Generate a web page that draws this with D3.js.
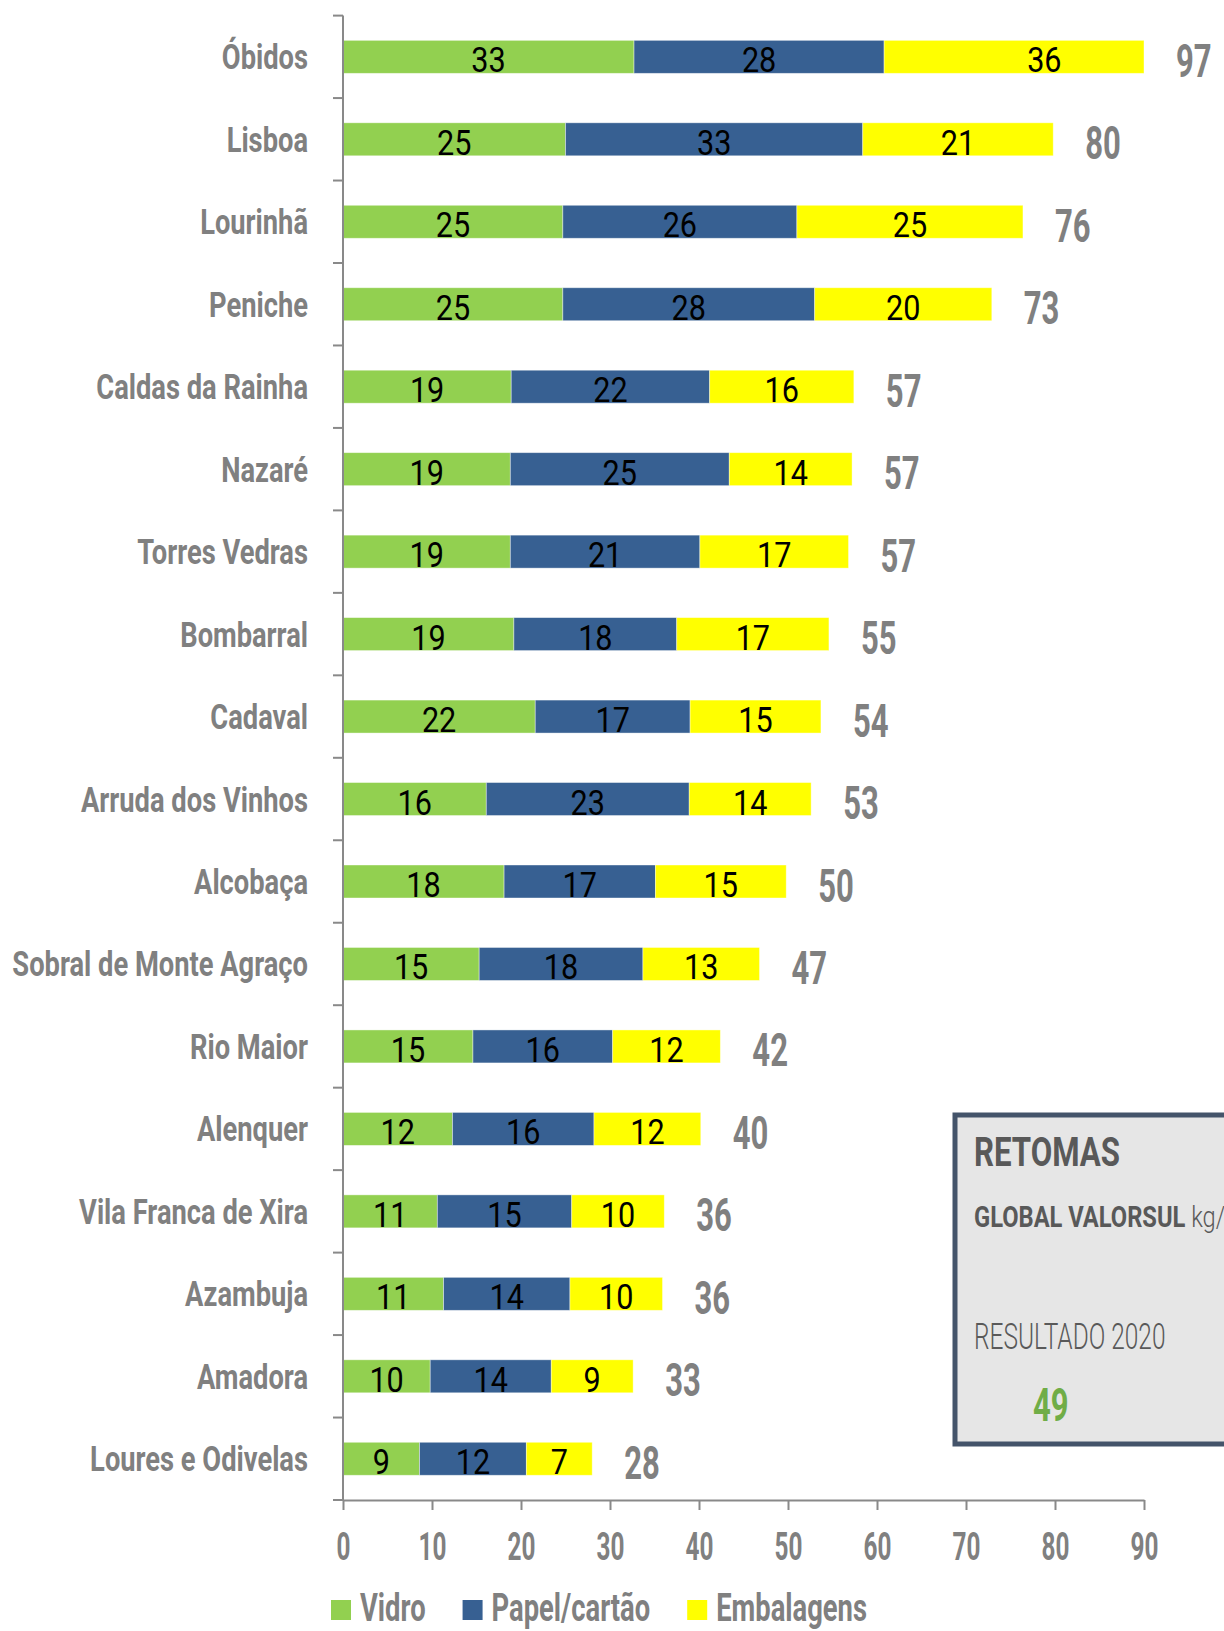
<!DOCTYPE html>
<html>
<head>
<meta charset="utf-8">
<script src="https://cdn.jsdelivr.net/npm/d3@7"></script>
<style>
  body { margin: 0; background: #fff; }
  svg { display: block; font-family: Roboto, "Noto Sans", sans-serif; }
</style>
</head>
<body>
<div id="wrapper"></div>
<script>
// data (kg/hab)
const categories = ["Óbidos", "Lisboa", "Lourinhã", "Peniche", "Caldas da Rainha", "Nazaré",
  "Torres Vedras", "Bombarral", "Cadaval", "Arruda dos Vinhos", "Alcobaça",
  "Sobral de Monte Agraço", "Rio Maior", "Alenquer", "Vila Franca de Xira",
  "Azambuja", "Amadora", "Loures e Odivelas"]
const vidro      = [32.7, 25.0, 24.7, 24.7, 18.9, 18.8, 18.8, 19.2, 21.6, 16.1, 18.1, 15.3, 14.6, 12.3, 10.6, 11.3, 9.8, 8.6]
const papel      = [28.1, 33.4, 26.3, 28.3, 22.3, 24.6, 21.3, 18.3, 17.4, 22.8, 17.0, 18.4, 15.7, 15.9, 15.1, 14.2, 13.6, 12.0]
const embalagens = [36.0, 21.4, 25.4, 19.9, 16.2, 13.8, 16.7, 17.1, 14.7, 13.7, 14.7, 13.1, 12.1, 12.0, 10.4, 10.4, 9.2, 7.4]
const totals     = [97, 80, 76, 73, 57, 57, 57, 55, 54, 53, 50, 47, 42, 40, 36, 36, 33, 28]
const seriesNames = ["Vidro", "Papel/cartão", "Embalagens"]
const seriesColors = ["#92d050", "#376092", "#ffff00"]
const xTicks = [0, 10, 20, 30, 40, 50, 60, 70, 80, 90]

const grey = "#808080"

const rows = categories.map((c, i) => ({
  name: c,
  "Vidro": vidro[i],
  "Papel/cartão": papel[i],
  "Embalagens": embalagens[i],
  total: totals[i],
}))

// dimensions
const width = 1224
const height = 1631
const plot = { left: 343, right: 1144, top: 15.6, bottom: 1500 }

const svg = d3.select("#wrapper")
  .append("svg")
    .attr("width", width)
    .attr("height", height)

// scales
const xScale = d3.scaleLinear()
  .domain([0, 90])
  .range([plot.left, plot.right])
  .clamp(true)
const xLabel = xScale.copy().clamp(false)

const yScale = d3.scaleBand()
  .domain(categories)
  .range([plot.top, plot.bottom])
  .paddingInner(0.6)
  .paddingOuter(0.3)

const color = d3.scaleOrdinal().domain(seriesNames).range(seriesColors)

const stacked = d3.stack().keys(seriesNames)(rows)

// squeeze text horizontally, the original uses a condensed face
const condensed = (sel, sx) => sel.attr("transform", function () {
  const x = +d3.select(this).attr("data-x") || 0
  const y = +d3.select(this).attr("data-y") || 0
  return `translate(${x},${y}) scale(${sx},1)`
})

// bars
const layers = svg.append("g")
  .selectAll("g")
  .data(stacked)
  .join("g")
    .attr("fill", d => color(d.key))

layers.selectAll("rect")
  .data(d => d)
  .join("rect")
    .attr("x", d => xScale(d[0]))
    .attr("y", d => yScale(d.data.name))
    .attr("width", d => xScale(d[1]) - xScale(d[0]))
    .attr("height", yScale.bandwidth())
    .attr("stroke", "#ffffff")
    .attr("stroke-opacity", 0.5)
    .attr("stroke-width", 0.8)

// values inside the bars
layers.selectAll("text")
  .data(d => d)
  .join("text")
    .attr("data-x", d => (xLabel(d[0]) + xLabel(d[1])) / 2)
    .attr("data-y", d => yScale(d.data.name) + yScale.bandwidth() / 2 + 15.5)
    .attr("text-anchor", "middle")
    .attr("fill", "#000")
    .style("font-size", "36px")
    .text(d => Math.round(d[1] - d[0]))
    .call(condensed, 0.85)

// totals
svg.append("g")
  .selectAll("text")
  .data(rows)
  .join("text")
    .attr("data-x", d => xScale(d["Vidro"] + d["Papel/cartão"] + d["Embalagens"]) + 32)
    .attr("data-y", d => yScale(d.name) + yScale.bandwidth() / 2 + 20)
    .attr("fill", grey)
    .style("font-size", "47px")
    .style("font-weight", 700)
    .text(d => d.total)
    .call(condensed, 0.66)

// y axis: line, boundary ticks, category labels
const yAxis = svg.append("g")
yAxis.append("line")
  .attr("x1", plot.left).attr("x2", plot.left)
  .attr("y1", plot.top).attr("y2", plot.bottom)
  .attr("stroke", "#898989")
  .attr("stroke-width", 2)

const gap = (yScale.step() - yScale.bandwidth()) / 2
yAxis.selectAll(".ytick")
  .data(categories.map(c => yScale(c) - gap).concat([plot.bottom]))
  .join("line")
    .attr("class", "ytick")
    .attr("x1", plot.left - 10).attr("x2", plot.left)
    .attr("y1", d => d).attr("y2", d => d)
    .attr("stroke", "#898989")
    .attr("stroke-width", 2)

yAxis.selectAll(".ylabel")
  .data(categories)
  .join("text")
    .attr("class", "ylabel")
    .attr("data-x", 308)
    .attr("data-y", d => yScale(d) + yScale.bandwidth() / 2 + 12.5)
    .attr("text-anchor", "end")
    .attr("fill", grey)
    .style("font-size", "35px")
    .style("font-weight", 700)
    .text(d => d)
    .call(condensed, 0.78)

// x axis
const xAxisGenerator = d3.axisBottom(xScale)
  .tickValues(xTicks)
  .tickSize(10)
  .tickSizeOuter(0)

const xAxis = svg.append("g")
  .attr("transform", `translate(0,${plot.bottom})`)
  .call(xAxisGenerator)

xAxis.select(".domain")
  .attr("stroke", "#898989")
  .attr("stroke-width", 2)
xAxis.selectAll(".tick line")
  .attr("stroke", "#898989")
  .attr("stroke-width", 2)
xAxis.selectAll(".tick text")
  .attr("y", null)
  .attr("dy", null)
  .attr("data-y", 60)
  .attr("fill", grey)
  .style("font-size", "38px")
  .style("font-weight", 700)
  .style("font-family", "Roboto, sans-serif")
  .call(condensed, 0.64)

// legend
const legend = svg.append("g")
let lx = 331
seriesNames.forEach((name, i) => {
  legend.append("rect")
    .attr("x", lx)
    .attr("y", 1600)
    .attr("width", 20)
    .attr("height", 20)
    .attr("fill", seriesColors[i])
  const t = legend.append("text")
    .attr("data-x", lx + 29)
    .attr("data-y", 1621)
    .attr("fill", grey)
    .style("font-size", "38px")
    .style("font-weight", 700)
    .text(name)
    .call(condensed, 0.72)
  lx += 29 + t.node().getComputedTextLength() * 0.72 + 37
})

// RETOMAS box
const box = svg.append("g")
box.append("rect")
  .attr("x", 955)
  .attr("y", 1115)
  .attr("width", 300)
  .attr("height", 329)
  .attr("fill", "#e6e6e6")
  .attr("stroke", "#44546a")
  .attr("stroke-width", 5)

box.append("text")
  .attr("data-x", 974).attr("data-y", 1166)
  .attr("fill", "#595959")
  .style("font-size", "40px")
  .style("font-weight", 700)
  .text("RETOMAS")
  .call(condensed, 0.78)

const global = box.append("text")
  .attr("data-x", 974).attr("data-y", 1227)
  .attr("fill", "#595959")
  .style("font-size", "30px")
global.append("tspan")
  .style("font-weight", 700)
  .text("GLOBAL VALORSUL")
global.append("tspan")
  .style("font-weight", 300)
  .text(" kg/hab")
global.call(condensed, 0.79)

box.append("text")
  .attr("data-x", 974).attr("data-y", 1349)
  .attr("fill", "#595959")
  .style("font-size", "36px")
  .style("font-weight", 300)
  .text("RESULTADO 2020")
  .call(condensed, 0.68)

box.append("text")
  .attr("data-x", 1033).attr("data-y", 1421)
  .attr("fill", "#70ad47")
  .style("font-size", "47px")
  .style("font-weight", 700)
  .text("49")
  .call(condensed, 0.66)
</script>
</body>
</html>
